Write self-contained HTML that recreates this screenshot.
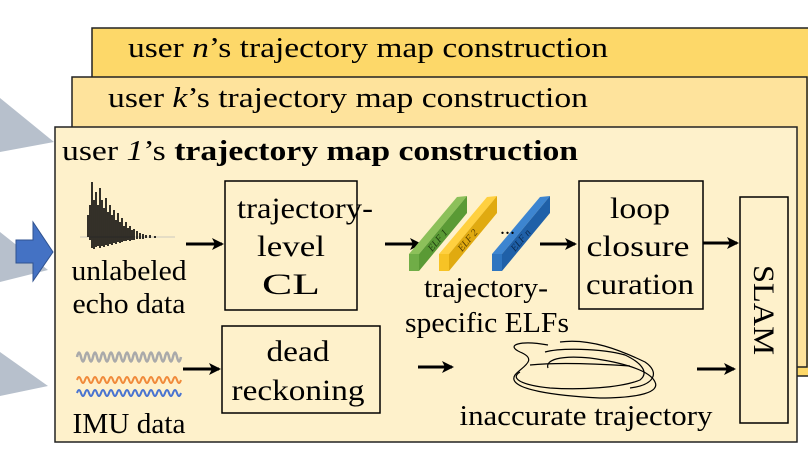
<!DOCTYPE html>
<html><head><meta charset="utf-8"><style>
html,body{margin:0;padding:0;background:#fff;}
svg{display:block;}
text{font-family:"Liberation Serif","DejaVu Serif","Times New Roman",serif;}
</style></head><body>
<svg width="808" height="455" viewBox="0 0 808 455" xmlns="http://www.w3.org/2000/svg">
<defs>
<marker id="ah" markerWidth="12" markerHeight="12" refX="10" refY="6" orient="auto" markerUnits="userSpaceOnUse"><path d="M0,0 L12,6 L0,12 L3,6 Z" fill="#000"/></marker>
</defs>
<polygon points="0,98 54,142 0,152" fill="#b7c0cc"/>
<polygon points="0,232 48,270 0,282" fill="#b7c0cc"/>
<polygon points="0,352 48,386 0,396" fill="#b7c0cc"/>
<polygon points="16,240 33,240 33,222 53,252 33,281 33,263 16,263" fill="#4472c4" stroke="#2f528f" stroke-width="1"/>
<rect x="92" y="28" width="720" height="348" fill="#fdd869" stroke="#222" stroke-width="1.5"/>
<text x="128" y="57" font-size="28" textLength="480" lengthAdjust="spacingAndGlyphs">user <tspan font-style="italic">n</tspan>’s trajectory map construction</text>
<rect x="72" y="77" width="735" height="290" fill="#fee39c" stroke="#222" stroke-width="1.5"/>
<text x="108" y="107" font-size="28" textLength="480" lengthAdjust="spacingAndGlyphs">user <tspan font-style="italic">k</tspan>’s trajectory map construction</text>
<rect x="55" y="127" width="742" height="315" fill="#fef1cb" stroke="#222" stroke-width="1.5"/>
<text x="62" y="160" font-size="28" textLength="516" lengthAdjust="spacingAndGlyphs">user <tspan font-style="italic">1</tspan>’s <tspan font-weight="bold">trajectory map construction</tspan></text>
<g stroke="#000" stroke-width="1.6">
<line x1="80" y1="237" x2="175" y2="237" stroke="#bbb" stroke-width="0.8"/>
<path d="M88,237 L88,215 M90,240 L90,205 M92,248 L92,182 M94,249 L94,200 M96,247 L96,192 M98,246 L98,205 M100,248 L100,188 M102,246 L102,200 M104,247 L104,208 M106,245 L106,198 M108,246 L108,212 M110,244 L110,205 M112,245 L112,215 M114,243 L114,210 M116,244 L116,220 M118,242 L118,213 M120,243 L120,222 M122,242 L122,218 M124,241 L124,226 M126,241 L126,222 M128,240 L128,228 M130,241 L130,226 M132,240 L132,230 M134,240 L134,229 M137,239 L137,231 M140,239 L140,233 M143,239 L143,234 M146,238 L146,235 M150,238 L150,235 M155,238 L155,236"/>
</g>
<text x="129" y="280" font-size="28" text-anchor="middle" textLength="115" lengthAdjust="spacingAndGlyphs">unlabeled</text>
<text x="129" y="313" font-size="28" text-anchor="middle" textLength="113" lengthAdjust="spacingAndGlyphs">echo data</text>
<path d="M77,357 q2,-9 4,0 t4,0 t4,0 t4,0 t4,0 t4,0 t4,0 t4,0 t4,0 t4,0 t4,0 t4,0 t4,0 t4,0 t4,0 t4,0 t4,0 t4,0 t4,0 t4,0 t4,0 t4,0 t4,0 t4,0 t4,0 t4,0" fill="none" stroke="#aaa" stroke-width="2.5"/>
<path d="M77,380 q2,-6 4,0 t4,0 t4,0 t4,0 t4,0 t4,0 t4,0 t4,0 t4,0 t4,0 t4,0 t4,0 t4,0 t4,0 t4,0 t4,0 t4,0 t4,0 t4,0 t4,0 t4,0 t4,0 t4,0 t4,0 t4,0 t4,0" fill="none" stroke="#f08a3a" stroke-width="2"/>
<path d="M77,393 q2,-6 4,0 t4,0 t4,0 t4,0 t4,0 t4,0 t4,0 t4,0 t4,0 t4,0 t4,0 t4,0 t4,0 t4,0 t4,0 t4,0 t4,0 t4,0 t4,0 t4,0 t4,0 t4,0 t4,0 t4,0 t4,0 t4,0" fill="none" stroke="#4a74d0" stroke-width="2"/>
<text x="129" y="433" font-size="28" text-anchor="middle" textLength="113" lengthAdjust="spacingAndGlyphs">IMU data</text>
<g fill="none" stroke="#000" stroke-width="1.5">
<rect x="225" y="181" width="132" height="129"/>
<rect x="579" y="181" width="124" height="128"/>
<rect x="740" y="197" width="48" height="226"/>
<rect x="222" y="326" width="158" height="87"/>
</g>
<g font-size="30" text-anchor="middle">
<text x="305" y="218" textLength="136" lengthAdjust="spacingAndGlyphs">trajectory-</text>
<text x="291" y="256" textLength="68" lengthAdjust="spacingAndGlyphs">level</text>
<text x="291" y="294" textLength="58" lengthAdjust="spacingAndGlyphs">CL</text>
<text x="640" y="218" textLength="60" lengthAdjust="spacingAndGlyphs">loop</text>
<text x="638" y="256" textLength="103" lengthAdjust="spacingAndGlyphs">closure</text>
<text x="640" y="294" textLength="108" lengthAdjust="spacingAndGlyphs">curation</text>
<text x="298" y="361" textLength="63" lengthAdjust="spacingAndGlyphs">dead</text>
<text x="298" y="400" textLength="133" lengthAdjust="spacingAndGlyphs">reckoning</text>
<text transform="translate(754,310) rotate(90)" textLength="90" lengthAdjust="spacingAndGlyphs">SLAM</text>
</g>
<g stroke="#000" stroke-width="3" marker-end="url(#ah)">
<line x1="186" y1="244" x2="222" y2="244"/>
<line x1="385" y1="244" x2="420" y2="244"/>
<line x1="540" y1="244" x2="575" y2="244"/>
<line x1="703" y1="243" x2="737" y2="243"/>
<line x1="183" y1="369" x2="219" y2="369"/>
<line x1="418" y1="367" x2="452" y2="367"/>
<line x1="697" y1="369" x2="734" y2="369"/>
</g>
<g font-size="10" font-style="italic">
<polygon points="409,254 457,197 467,196 419,254" fill="#8cc05a"/>
<polygon points="409,254 419,254 419,271 409,271" fill="#70ad47"/>
<polygon points="419,254 467,196 467,213 419,271" fill="#5a9a35"/>
<text transform="translate(432,252) rotate(-50)" fill="#1f3d10">ELF 1</text>
<polygon points="439,254 487,197 497,196 449,254" fill="#ffd040"/>
<polygon points="439,254 449,254 449,271 439,271" fill="#f7c325"/>
<polygon points="449,254 497,196 497,213 449,271" fill="#e0aa10"/>
<text transform="translate(462,252) rotate(-50)" fill="#5a4000">ELF 2</text>
<polygon points="492,254 540,197 550,196 502,254" fill="#3d85d0"/>
<polygon points="492,254 502,254 502,271 492,271" fill="#2e75c0"/>
<polygon points="502,254 550,196 550,213 502,271" fill="#1f60a8"/>
<text transform="translate(515,252) rotate(-50)" fill="#0a2a50">ELF n</text>
<text x="500" y="234" font-size="20" font-style="normal">...</text>
</g>
<g font-size="28" text-anchor="middle">
<text x="486" y="297" textLength="124" lengthAdjust="spacingAndGlyphs">trajectory-</text>
<text x="487" y="332" textLength="164" lengthAdjust="spacingAndGlyphs">specific ELFs</text>
<text x="586" y="425" textLength="253" lengthAdjust="spacingAndGlyphs">inaccurate  trajectory</text>
</g>
<g fill="none" stroke="#000" stroke-width="1.2">
<path d="M548,345 C520,340 505,345 520,352 C540,360 520,368 515,375 C505,390 560,396 600,398 C640,398 660,392 655,382 C650,370 620,362 590,358 C560,355 545,360 548,368"/>
<path d="M545,352 C560,348 600,348 625,355 C640,362 650,372 640,380 C620,388 580,390 550,388 C520,385 510,378 520,372"/>
<path d="M560,342 C590,338 620,350 645,362 C660,372 655,385 630,388"/>
<path d="M530,365 C560,362 600,364 630,366"/>
</g>
</svg>
</body></html>
